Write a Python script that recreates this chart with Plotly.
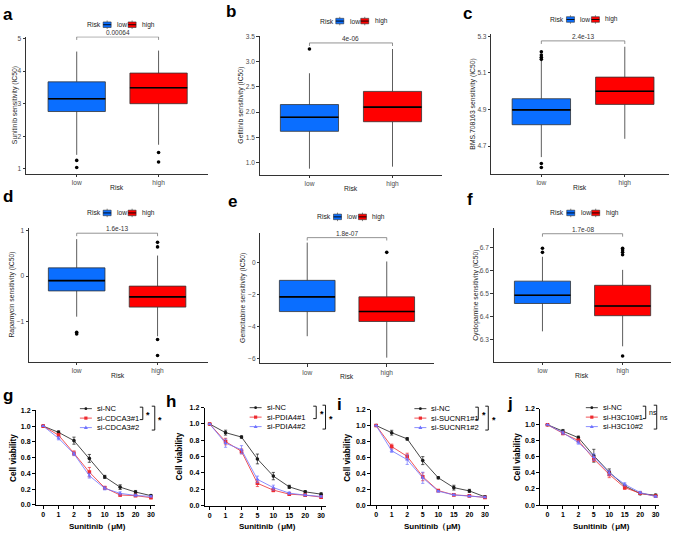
import plotly.graph_objects as go

W, H = 676, 536
FONT = "Liberation Sans, Arial, sans-serif"
BLUE = "#0A6EFF"
RED = "#FF0000"
LINE_COLORS = ["#1a1a1a", "#EE2A2F", "#6F72FF"]
LINE_SYMBOLS = ["circle", "square", "triangle-up"]

# ---------------- data: drug sensitivity boxplots (a-f) ----------------
groups = ["low", "high"]
drug_titles = [
    "Sunitinib sensitivity (IC50)",
    "Gefitinib sensitivity (IC50)",
    "BMS.708163 sensitivity (IC50)",
    "Rapamycin sensitivity (IC50)",
    "Gemcitabine sensitivity (IC50)",
    "Cyclopamine sensitivity (IC50)",
]
p_values = ["0.00064", "4e-06", "2.4e-13", "1.6e-13", "1.8e-07", "1.7e-08"]
bracket_y = [5.05, 3.37, 5.275, 0.94, 1.54, 6.76]

low_q1 = [2.76, 1.62, 4.817, -0.325, -3.08, 6.457]
low_median = [3.15, 1.90, 4.898, -0.10, -2.16, 6.493]
low_q3 = [3.67, 2.15, 4.959, 0.18, -1.13, 6.554]
low_min = [1.43, 0.88, 4.64, -0.89, -4.62, 6.336]
low_max = [4.60, 2.77, 5.165, 0.81, 1.23, 6.66]
low_outliers = [[1.26, 1.04], [3.25], [5.174, 5.185, 5.198, 5.216, 4.605, 4.583],
                [-1.23, -1.27], [], [6.697, 6.679]]

high_q1 = [3.00, 1.81, 4.928, -0.68, -3.70, 6.404]
high_median = [3.49, 2.10, 5.00, -0.455, -3.08, 6.446]
high_q3 = [3.94, 2.41, 5.077, -0.22, -2.16, 6.536]
high_min = [1.74, 0.92, 4.74, -1.32, -5.96, 6.271]
high_max = [4.63, 3.25, 5.243, 0.45, 0.05, 6.603]
high_outliers = [[1.50, 1.21], [], [], [0.74, 0.64, -1.39, -1.74], [0.62],
                 [6.697, 6.689, 6.679, 6.669, 6.229]]

# ---------------- data: cell viability curves (g-j) ----------------
doses = ["0", "1", "2", "5", "10", "15", "20", "30"]
line_names = [
    ["si-NC", "si-CDCA3#1", "si-CDCA3#2"],
    ["si-NC", "si-PDIA4#1", "si-PDIA4#2"],
    ["si-NC", "si-SUCNR1#1", "si-SUCNR1#2"],
    ["si-NC", "si-H3C10#1", "si-H3C10#2"],
]
signif = [["*", "*"], ["*", "*"], ["*", "*"], ["ns", "ns"]]

viability_g = [[1.0, 0.92, 0.815, 0.59, 0.355, 0.225, 0.163, 0.117],
               [1.0, 0.885, 0.655, 0.415, 0.217, 0.125, 0.117, 0.092],
               [1.0, 0.845, 0.648, 0.37, 0.21, 0.146, 0.12, 0.108]]
error_g = [[0, 0.02, 0.045, 0.05, 0.02, 0.03, 0.02, 0.01],
           [0, 0.02, 0.03, 0.06, 0.02, 0.015, 0.01, 0.01],
           [0, 0.02, 0.02, 0.03, 0.02, 0.02, 0.01, 0.01]]

viability_h = [[1.0, 0.894, 0.84, 0.572, 0.362, 0.23, 0.169, 0.141],
               [1.0, 0.785, 0.665, 0.274, 0.19, 0.141, 0.129, 0.105],
               [1.0, 0.765, 0.685, 0.322, 0.221, 0.153, 0.129, 0.113]]
error_h = [[0, 0.03, 0.015, 0.06, 0.045, 0.02, 0.015, 0.015],
           [0, 0.04, 0.03, 0.04, 0.02, 0.01, 0.01, 0.015],
           [0, 0.05, 0.05, 0.04, 0.03, 0.015, 0.01, 0.01]]

viability_i = [[1.0, 0.91, 0.832, 0.559, 0.343, 0.219, 0.178, 0.103],
               [1.0, 0.736, 0.612, 0.356, 0.182, 0.128, 0.116, 0.095],
               [1.0, 0.683, 0.571, 0.343, 0.174, 0.128, 0.112, 0.099]]
error_i = [[0, 0.03, 0.015, 0.05, 0.015, 0.03, 0.02, 0.015],
           [0, 0.03, 0.04, 0.05, 0.01, 0.01, 0.01, 0.01],
           [0, 0.02, 0.06, 0.07, 0.01, 0.01, 0.01, 0.01]]

viability_j = [[1.0, 0.921, 0.839, 0.614, 0.41, 0.238, 0.143, 0.123],
               [1.0, 0.893, 0.803, 0.573, 0.381, 0.217, 0.147, 0.111],
               [1.0, 0.901, 0.778, 0.598, 0.401, 0.258, 0.156, 0.106]]
error_j = [[0, 0.02, 0.02, 0.08, 0.04, 0.02, 0.015, 0.015],
           [0, 0.02, 0.02, 0.03, 0.04, 0.02, 0.015, 0.01],
           [0, 0.02, 0.02, 0.04, 0.03, 0.02, 0.015, 0.01]]

viability = [viability_g, viability_h, viability_i, viability_j]
errors = [error_g, error_h, error_i, error_j]

# ---------------- layout geometry (pixels) ----------------
letters = ["a", "b", "c", "d", "e", "f", "g", "h", "i", "j"]
letter_pos = [(1, 11), (224, 8), (462, 9.5), (1, 195), (226, 200), (466, 198),
              (1, 397), (164, 403), (335, 406), (506, 405)]

box_area = [(26, 33, 208, 172), (260, 32.3, 443, 173), (492, 30.7, 670, 172),
            (29, 226.7, 208, 362.7), (260.7, 231.7, 434.3, 364), (494.3, 226.7, 671.7, 362.7)]
box_yrange = [(0.85, 5.06), (0.76, 3.51), (4.549, 5.311), (-1.883, 1.06), (-6.31, 1.85), (6.203, 6.786)]
box_xrange = [(-0.62, 1.6), (-0.6, 1.6), (-0.6, 1.53), (-0.59, 1.62), (-0.59, 1.59), (-0.61, 1.6)]
box_tick0 = [1, 1, 4.7, -1, -6, 6.3]
box_dtick = [1, 0.5, 0.2, 1, 2, 0.1]
box_tickformat = ["", ".1f", ".1f", "", "", ".1f"]
box_legend = [(85, 21), (318, 17.3), (549, 15.7), (85, 211.7), (315.7, 215.7), (549.3, 211.7)]
box_ytitle_x = [15, 241.7, 473.3, 11.7, 243.3, 476.7]

line_area = [(36, 411.7, 155, 507.5), (205, 409, 326.7, 508.3),
             (371.7, 411, 490, 507.7), (541, 410, 660, 507.7)]
line_xrange = [(-0.47, 7.25), (-0.31, 7.32), (-0.32, 7.28), (-0.47, 7.22)]
line_legend = [(80, 410), (250, 409), (415, 410), (586.7, 409)]
bracket_off = [(63, 75), (66.7, 76), (64, 74), (60, 71)]
ytitle_line_x = [13.3, 180, 348, 519]


def px(x):
    return x / W


def py(y):
    return 1 - y / H


def suffix(k):
    return "" if k == 1 else str(k)


def text(x, y, s, size, color="#222222", xanchor="center", **kw):
    # paper-positioned label, x/y given in pixels from the top-left corner
    return dict(x=px(x), y=py(y), xref="paper", yref="paper", text=s, showarrow=False,
                xanchor=xanchor, yanchor="middle", font=dict(size=size, color=color), **kw)


fig = go.Figure()
shapes = []
annos = []
layout_axes = {}

box_stats = {
    "low": (low_q1, low_median, low_q3, low_min, low_max, low_outliers, BLUE),
    "high": (high_q1, high_median, high_q3, high_min, high_max, high_outliers, RED),
}

# ---------------- boxplots ----------------
for i in range(6):
    k = i + 1
    xa, ya = "x" + suffix(k), "y" + suffix(k)
    l, t, r, b = box_area[i]
    for j, grp in enumerate(groups):
        q1, med, q3, lo, hi, outl, col = box_stats[grp]
        fig.add_trace(go.Box(
            x=[j], q1=[q1[i]], median=[med[i]], q3=[q3[i]],
            lowerfence=[lo[i]], upperfence=[hi[i]],
            width=0.7, whiskerwidth=0, boxpoints=False,
            fillcolor=col, line=dict(color="#333333", width=0.8),
            xaxis=xa, yaxis=ya, showlegend=False, hoverinfo="skip",
        ))
        # thicker median line (ggplot style)
        fig.add_trace(go.Scatter(
            x=[j - 0.35, j + 0.35], y=[med[i], med[i]], mode="lines",
            line=dict(color="black", width=1.6),
            xaxis=xa, yaxis=ya, showlegend=False, hoverinfo="skip",
        ))
        if outl[i]:
            fig.add_trace(go.Scatter(
                x=[j] * len(outl[i]), y=outl[i], mode="markers",
                marker=dict(size=3.6, color="black"),
                xaxis=xa, yaxis=ya, showlegend=False, hoverinfo="skip",
            ))

    ylo, yhi = box_yrange[i]
    layout_axes["xaxis" + suffix(k)] = dict(
        domain=[px(l), px(r)], anchor=ya, range=list(box_xrange[i]),
        tickvals=[0, 1], ticktext=groups, showline=True, linecolor="#333333",
        linewidth=0.8, ticks="outside", ticklen=2.5, tickwidth=0.8, tickcolor="#333333",
        tickfont=dict(size=6.6, color="#4d4d4d"), showgrid=False, zeroline=False,
    )
    layout_axes["yaxis" + suffix(k)] = dict(
        domain=[py(b), py(t)], anchor=xa, range=[ylo, yhi],
        tick0=box_tick0[i], dtick=box_dtick[i], tickformat=box_tickformat[i],
        showline=True, linecolor="#333333", linewidth=0.8, ticks="outside",
        ticklen=2.5, tickwidth=0.8, tickcolor="#333333",
        tickfont=dict(size=6.6, color="#4d4d4d"), showgrid=False, zeroline=False,
    )

    # significance bracket
    yb = bracket_y[i]
    tip = 0.022 * (yhi - ylo)
    shapes.append(dict(
        type="path", xref=xa, yref=ya,
        path=f"M 0,{yb - tip} L 0,{yb} L 1,{yb} L 1,{yb - tip}",
        line=dict(color="#777777", width=0.8),
    ))
    annos.append(dict(x=0.5, y=yb, xref=xa, yref=ya, text=p_values[i], showarrow=False,
                      xanchor="center", yanchor="bottom", yshift=-1,
                      font=dict(size=6.5, color="#333333")))

    # axis titles
    annos.append(text(box_ytitle_x[i], (t + b) / 2, drug_titles[i], 6.8, textangle=-90))
    annos.append(text((l + r) / 2, b + 13.5, "Risk", 6.8))

    # legend: Risk [low] [high]
    lx, ly = box_legend[i]
    annos.append(text(lx, ly, "Risk", 6.8, xanchor="left"))
    for j, (grp, off) in enumerate(zip(groups, [18.3, 43.3])):
        col = box_stats[grp][6]
        kx0, kx1 = lx + off, lx + off + 8
        shapes.append(dict(type="rect", xref="paper", yref="paper",
                           x0=px(kx0), x1=px(kx1), y0=py(ly + 2.8), y1=py(ly - 2.8),
                           fillcolor=col, line=dict(color="#333333", width=0.6)))
        shapes.append(dict(type="line", xref="paper", yref="paper",
                           x0=px(kx0), x1=px(kx1), y0=py(ly), y1=py(ly),
                           line=dict(color="black", width=0.9)))
        for s in (-1, 1):
            shapes.append(dict(type="line", xref="paper", yref="paper",
                               x0=px(kx0 + 4), x1=px(kx0 + 4), y0=py(ly + s * 2.8),
                               y1=py(ly + s * 4.3), line=dict(color="#333333", width=0.6)))
        annos.append(text(kx1 + 4, ly, grp, 6.6, xanchor="left"))

# ---------------- viability curves ----------------
for i in range(4):
    k = 7 + i
    xa, ya = "x" + suffix(k), "y" + suffix(k)
    l, t, r, b = line_area[i]
    for s in range(3):
        fig.add_trace(go.Scatter(
            x=doses, y=viability[i][s], mode="lines+markers", name=line_names[i][s],
            line=dict(color=LINE_COLORS[s], width=0.8),
            marker=dict(symbol=LINE_SYMBOLS[s], size=3.6, color=LINE_COLORS[s]),
            error_y=dict(type="data", array=errors[i][s], thickness=0.7, width=1.6,
                         color=LINE_COLORS[s]),
            xaxis=xa, yaxis=ya, showlegend=False, hoverinfo="skip",
        ))
    layout_axes["xaxis" + suffix(k)] = dict(
        domain=[px(l), px(r)], anchor=ya, type="category", range=list(line_xrange[i]),
        showline=True, linecolor="black", linewidth=1, ticks="outside", ticklen=3,
        tickwidth=1, tickcolor="black", tickfont=dict(size=7, color="black", weight="bold"),
        showgrid=False, zeroline=False,
    )
    layout_axes["yaxis" + suffix(k)] = dict(
        domain=[py(b), py(t)], anchor=xa, range=[0, 1.2], dtick=0.2, tickformat=".1f",
        showline=True, linecolor="black", linewidth=1, ticks="outside", ticklen=3,
        tickwidth=1, tickcolor="black", tickfont=dict(size=7, color="black", weight="bold"),
        showgrid=False, zeroline=False,
    )
    annos.append(text(ytitle_line_x[i], (t + b) / 2, "<b>Cell viability</b>", 8.2,
                      color="black", textangle=-90))
    annos.append(text((l + r) / 2 + 2, b + 21.5, "<b>Sunitinib（μM)</b>", 8, color="black"))

    # legend
    lx, ly = line_legend[i]
    rows = [ly + 9.6 * s for s in range(3)]
    for s in range(3):
        yy = rows[s]
        col = LINE_COLORS[s]
        shapes.append(dict(type="line", xref="paper", yref="paper", x0=px(lx), x1=px(lx + 12),
                           y0=py(yy), y1=py(yy), line=dict(color=col, width=0.8)))
        cx = lx + 6
        if s == 0:
            shapes.append(dict(type="circle", xref="paper", yref="paper",
                               x0=px(cx - 1.4), x1=px(cx + 1.4), y0=py(yy + 1.4), y1=py(yy - 1.4),
                               fillcolor=col, line=dict(width=0)))
        elif s == 1:
            shapes.append(dict(type="rect", xref="paper", yref="paper",
                               x0=px(cx - 1.6), x1=px(cx + 1.6), y0=py(yy + 1.6), y1=py(yy - 1.6),
                               fillcolor=col, line=dict(width=0)))
        else:
            shapes.append(dict(type="path", xref="paper", yref="paper",
                               path=f"M {px(cx - 2)},{py(yy + 1.5)} L {px(cx + 2)},{py(yy + 1.5)} "
                                    f"L {px(cx)},{py(yy - 2)} Z",
                               fillcolor=col, line=dict(width=0)))
        annos.append(text(lx + 15, yy, line_names[i][s], 7.6, color="black", xanchor="left"))
    # significance brackets
    for n, (off, y0, y1) in enumerate([(bracket_off[i][0], rows[0] - 1.5, rows[1] + 1.5),
                                       (bracket_off[i][1], rows[0] - 2.5, rows[2] + 2.5)]):
        bx = lx + off
        shapes.append(dict(type="path", xref="paper", yref="paper",
                           path=f"M {px(bx - 3)},{py(y0)} L {px(bx)},{py(y0)} L {px(bx)},{py(y1)} "
                                f"L {px(bx - 3)},{py(y1)}",
                           line=dict(color="black", width=0.9)))
        mark = signif[i][n]
        star = mark == "*"
        annos.append(dict(x=px(bx + 1.5), y=py((y0 + y1) / 2 + (1.5 if star else 0)),
                          xref="paper", yref="paper", text=mark, showarrow=False,
                          xanchor="left", yanchor="middle",
                          font=dict(size=9 if star else 7, color="black",
                                    weight="bold" if star else "normal")))

# panel letters
for lt, (x, y) in zip(letters, letter_pos):
    annos.append(text(x, y, f"<b>{lt}</b>", 17, color="black", xanchor="left"))

fig.update_layout(
    width=W, height=H, margin=dict(l=0, r=0, t=0, b=0),
    paper_bgcolor="white", plot_bgcolor="white",
    font=dict(family=FONT, color="#222222"),
    showlegend=False, shapes=shapes, annotations=annos,
    **layout_axes,
)

# the page body has a default 8px margin; remove it so the figure fills the window
fig.write_html("out.html", config={"displayModeBar": False},
               post_script="document.body.style.margin='0';")
